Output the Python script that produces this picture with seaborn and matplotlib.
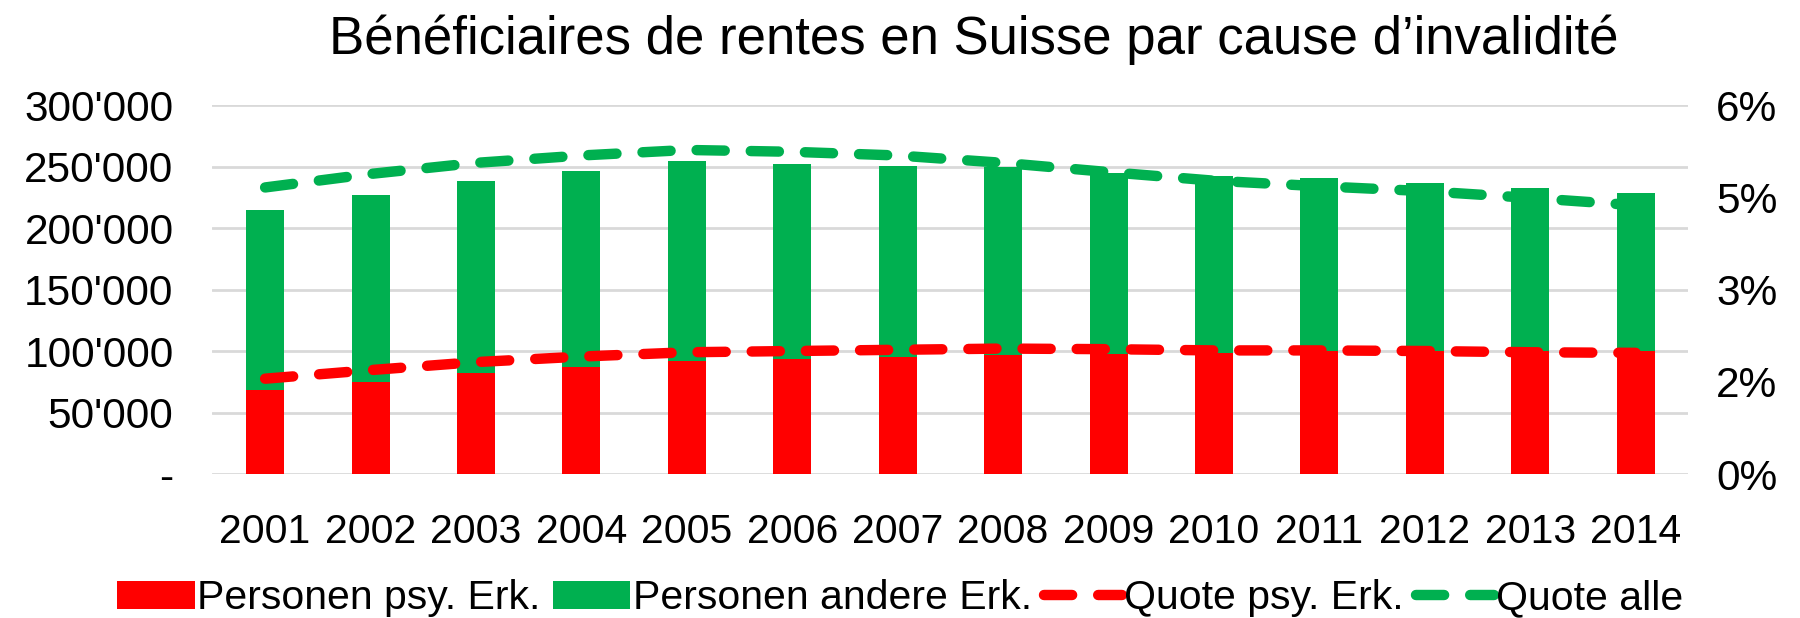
import matplotlib
matplotlib.use("Agg")
import matplotlib.pyplot as plt
import seaborn as sns
import pandas as pd
from matplotlib.ticker import FixedLocator, FixedFormatter

years = ["2001", "2002", "2003", "2004", "2005", "2006", "2007",
         "2008", "2009", "2010", "2011", "2012", "2013", "2014"]
personen_psy = [68400, 75000, 81800, 87400, 91900, 93800, 95200,
                96800, 97900, 98700, 100000, 100200, 100100, 100000]
personen_total = [214500, 226600, 238100, 246100, 254200, 252300, 250400,
                  249300, 244800, 242600, 240500, 237000, 232700, 228200]
quote_psy = [1.55, 1.69, 1.82, 1.91, 1.98, 2.00, 2.02,
             2.04, 2.03, 2.01, 2.01, 2.00, 1.98, 1.97]
quote_alle = [4.66, 4.88, 5.06, 5.18, 5.27, 5.24, 5.18,
              5.06, 4.91, 4.77, 4.68, 4.60, 4.49, 4.37]

left_ticks = [0, 50000, 100000, 150000, 200000, 250000, 300000]
left_labels = ["-", "50'000", "100'000", "150'000", "200'000", "250'000", "300'000"]
right_ticks = [0, 1.5, 3.0, 4.5, 6.0]
right_labels = ["0%", "2%", "3%", "5%", "6%"]

title = "Bénéficiaires de rentes en Suisse par cause d’invalidité"
names = ["Personen psy. Erk.", "Personen andere Erk.", "Quote psy. Erk.", "Quote alle"]

RED = "#FF0000"
GREEN = "#00B050"

sns.set_theme(style="white")
plt.rcParams["font.family"] = ["Liberation Sans", "DejaVu Sans"]
plt.rcParams["text.color"] = "black"
plt.rcParams["xtick.color"] = "black"
plt.rcParams["ytick.color"] = "black"

df = pd.DataFrame({"year": years, "psy": personen_psy, "total": personen_total,
                   "qpsy": quote_psy, "qalle": quote_alle})

fig = plt.figure(figsize=(18, 6.18), dpi=100)
ax = fig.add_axes([0.118, 0.233, 0.820, 0.597])

sns.barplot(data=df, x="year", y="total", color=GREEN, width=0.36,
            saturation=1, ax=ax, zorder=2, label=names[1], linewidth=0)
sns.barplot(data=df, x="year", y="psy", color=RED, width=0.36,
            saturation=1, ax=ax, zorder=3, label=names[0], linewidth=0)

ax.set_ylim(0, 300000)
ax.set_xlim(-0.5, 13.5)
ax.yaxis.set_major_locator(FixedLocator(left_ticks))
ax.yaxis.set_major_formatter(FixedFormatter(left_labels))
ax.grid(axis="y", color="#D9D9D9", linewidth=2, zorder=0)
ax.set_axisbelow(True)
for s in ax.spines.values():
    s.set_visible(False)
ax.set_xlabel("")
ax.set_ylabel("")
ax.tick_params(axis="y", labelsize=30.5, pad=28, length=0, labelcolor="black")
ax.tick_params(axis="x", labelsize=29.5, pad=28, length=0, labelcolor="black")
if ax.get_legend():
    ax.get_legend().remove()

ax2 = ax.twinx()
sns.lineplot(x=list(range(len(years))), y=quote_psy, ax=ax2, color=RED,
             linewidth=7.5, dashes=False, label=names[2])
sns.lineplot(x=list(range(len(years))), y=quote_alle, ax=ax2, color=GREEN,
             linewidth=7.5, dashes=False, label=names[3])
for ln in ax2.get_lines():
    ln.set_dashes([2.7, 2.5])
    ln.set_dash_capstyle("round")
ax2.set_ylim(0, 6)
ax2.set_xlim(-0.5, 13.5)
ax2.yaxis.set_major_locator(FixedLocator(right_ticks))
ax2.yaxis.set_major_formatter(FixedFormatter(right_labels))
ax2.tick_params(axis="y", labelsize=30.5, pad=20, length=0, labelcolor="black")
ax2.grid(False)
for s in ax2.spines.values():
    s.set_visible(False)
if ax2.get_legend():
    ax2.get_legend().remove()

fig.text(0.541, 0.935, title, ha="center", va="center", fontsize=38, color="black")

h1, l1 = ax.get_legend_handles_labels()
h2, l2 = ax2.get_legend_handles_labels()
hmap = dict(zip(l1 + l2, h1 + h2))
handles = [hmap[n] for n in names]
leg = fig.legend(handles, names, loc="center", bbox_to_anchor=(0.5, 0.032), ncol=4,
                 frameon=False, fontsize=29.5, handlelength=1.9, handletextpad=0.05,
                 columnspacing=0.3, borderaxespad=0)
for t in leg.get_texts():
    t.set_color("black")

fig.savefig("out.png", dpi=100)
